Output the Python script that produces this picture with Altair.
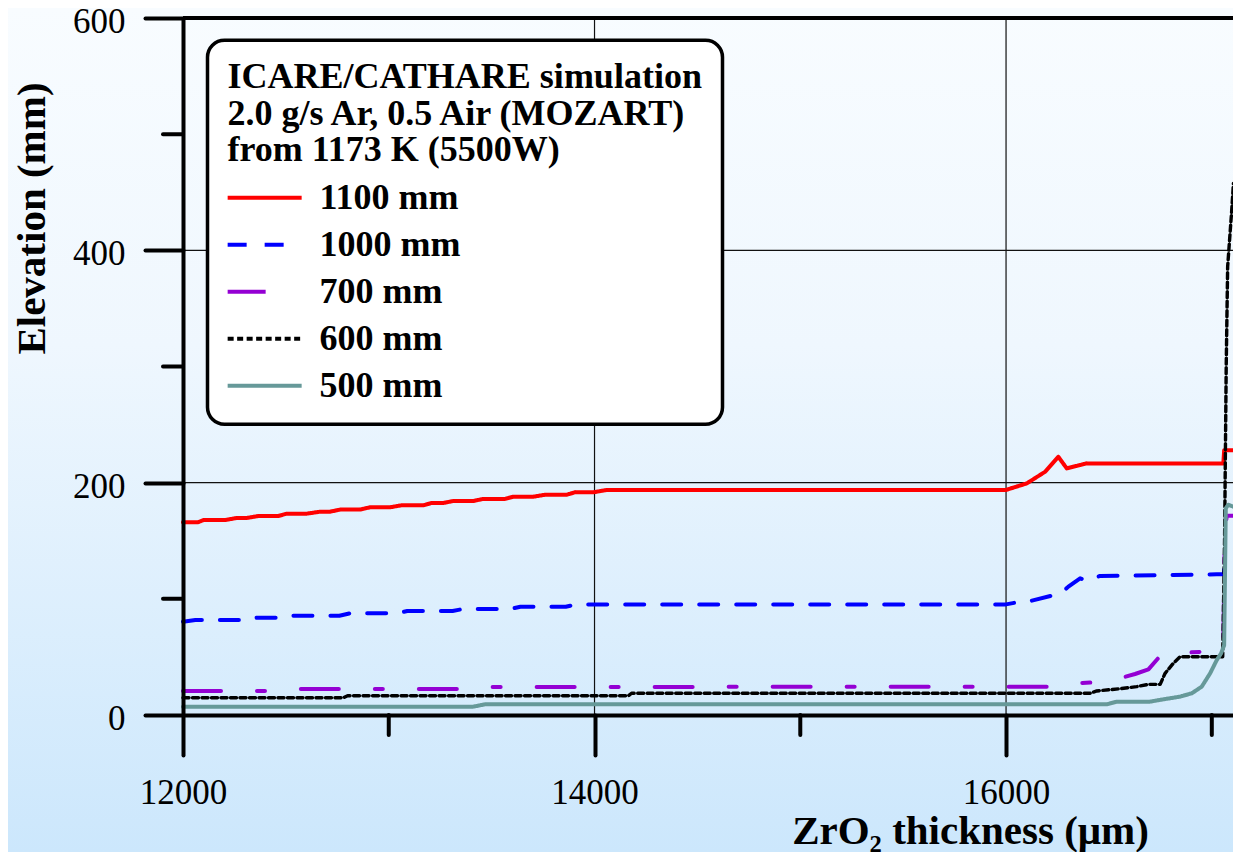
import altair as alt
import pandas as pd

SERIES = ["1100 mm", "1000 mm", "700 mm", "600 mm", "500 mm"]
COLORS = ["#FF0000", "#0000FF", "#9400D3", "#000000", "#669999"]
DASHES = [[1, 0], [19, 18], [38, 36, 8, 36], [6, 3.5], [1, 0]]
WIDTHS = [4, 4, 4, 3.4, 4]

LEGEND_TITLE = ["ICARE/CATHARE simulation", "2.0 g/s Ar, 0.5 Air (MOZART)", "from 1173 K (5500W)"]

x_1100 = [12000, 12074, 12099, 12204, 12261, 12310, 12366, 12463, 12504, 12601, 12666, 12714,
          12763, 12860, 12909, 13006, 13062, 13168, 13208, 13265, 13313, 13410, 13459, 13565,
          13605, 13702, 13759, 13865, 13905, 13994, 14059, 16000, 16101, 16190, 16254, 16295,
          16392, 17056, 17060, 17142]
y_1100 = [166, 166, 167.8, 167.8, 169.6, 169.6, 171.3, 171.3, 173.3, 173.3, 175, 175,
          176.8, 176.8, 178.8, 178.8, 180.5, 180.5, 182.5, 182.5, 184.2, 184.2, 186, 186,
          187.9, 187.9, 189.6, 189.6, 191.7, 191.7, 193.7, 193.7, 199.4, 209.4, 222.3, 212.3,
          216.6, 216.6, 228, 228]

x_1000 = [12000, 12060, 12310, 12360, 12480, 12530, 12760, 12810, 13040, 13090, 13310, 13360,
          13590, 13640, 13860, 13910, 16000, 16044, 16117, 16222, 16271, 16303, 16360, 16392,
          16457, 17024, 17058, 17064, 17142]
y_1000 = [80.3, 81.8, 81.8, 83.8, 83.8, 85.5, 85.5, 87.5, 87.5, 89.5, 89.5, 91.2,
          91.2, 93.2, 93.2, 95.2, 95.2, 96.7, 98.1, 102.7, 105.3, 110.5, 117.7, 115.6,
          119.7, 121.1, 121.1, 132, 132]

x_700 = [12000, 12450, 12510, 13430, 13480, 16206, 16246, 16433, 16520, 16627, 16692, 16757,
         16959, 17040, 17056, 17062, 17072, 17142]
y_700 = [20.7, 20.7, 22.4, 22.4, 24.1, 24.4, 26.4, 28.1, 30.0, 35.3, 39.3, 52.5,
         54.5, 54.5, 60, 140, 171.5, 171.5]

x_600 = [12000, 12780, 12800, 14165, 14180, 16408, 16441, 16554, 16635, 16692, 16749, 16773,
         16813, 16846, 17053, 17062, 17070, 17077, 17097, 17105, 17129, 17142]
y_600 = [14.9, 14.9, 16.6, 16.6, 18.7, 18.7, 20.7, 22.6, 24.4, 26.4, 26.4, 35.9,
         44.5, 50.2, 50.2, 150, 300, 386, 435, 457.6, 456, 455]

x_500 = [12000, 13411, 13468, 16490, 16538, 16700, 16765, 16846, 16903, 16951, 16992, 17024,
         17045, 17060, 17068, 17080, 17105, 17142]
y_500 = [7.2, 7.2, 9.2, 9.2, 11.5, 11.5, 13.5, 15.8, 18.7, 24.4, 35.9, 47.3,
         53, 60, 178, 181, 179.3, 178.8]

X_MAJOR = [12000, 14000, 16000]
X_MINOR = [13000, 15000, 17000]
Y_MAJOR = [0, 200, 400, 600]
Y_MINOR = [100, 300, 500]
X_GRID = [14000, 16000]
Y_GRID = [200, 400]
Y_TOP = [600]
X_DOMAIN = [12000, 17103]
Y_DOMAIN = [0, 600]

W, H = 1050, 697
FONT = "Liberation Serif"

rows = []
for name, w, xs, ys in zip(SERIES, WIDTHS, [x_1100, x_1000, x_700, x_600, x_500],
                           [y_1100, y_1000, y_700, y_600, y_500]):
    for i, (a, b) in enumerate(zip(xs, ys)):
        rows.append({"x": a, "y": b, "series": name, "w": w, "i": i})
df = pd.DataFrame(rows)

xscale = alt.Scale(domain=X_DOMAIN, nice=False, zero=False)
yscale = alt.Scale(domain=Y_DOMAIN, nice=False, zero=False)

gradient = alt.Gradient(
    gradient="linear",
    stops=[alt.GradientStop(color="#F8FCFF", offset=0),
           alt.GradientStop(color="#EFF7FE", offset=0.4),
           alt.GradientStop(color="#CCE7FC", offset=1)],
    x1=0, x2=0, y1=0, y2=1,
)

bg = alt.Chart(pd.DataFrame({"k": [0]})).mark_rect(fill=gradient, strokeWidth=0).encode(
    x=alt.value(-175), x2=alt.value(W), y=alt.value(-10), y2=alt.value(H + 137)
)

grid_x = alt.Chart(pd.DataFrame({"v": X_GRID})).mark_rule(color="#111111", strokeWidth=1.2).encode(
    x=alt.X("v:Q", scale=xscale, axis=None), y=alt.value(0), y2=alt.value(H)
)
grid_y = alt.Chart(pd.DataFrame({"v": Y_GRID})).mark_rule(color="#111111", strokeWidth=1.2).encode(
    y=alt.Y("v:Q", scale=yscale, axis=None), x=alt.value(0), x2=alt.value(W)
)
top_line = alt.Chart(pd.DataFrame({"v": Y_TOP})).mark_rule(color="black", strokeWidth=4).encode(
    y=alt.Y("v:Q", scale=yscale, axis=None), x=alt.value(0), x2=alt.value(W)
)

minor_y = alt.Chart(pd.DataFrame({"v": Y_MINOR})).mark_rule(
    color="black", strokeWidth=4, strokeCap="round"
).encode(
    y=alt.Y("v:Q", scale=yscale, axis=None), x=alt.value(-20), x2=alt.value(0)
)
minor_x = alt.Chart(pd.DataFrame({"v": X_MINOR})).mark_rule(
    color="black", strokeWidth=4, strokeCap="round"
).encode(
    x=alt.X("v:Q", scale=xscale, axis=None), y=alt.value(H), y2=alt.value(H + 20)
)

legend = alt.Legend(
    title=LEGEND_TITLE,
    orient="none", legendX=24.5, legendY=22.3, direction="vertical",
    symbolType="M-1.1,0H2.9", symbolSize=1369, symbolStrokeWidth=4,
    labelFont=FONT, labelFontSize=36, labelFontWeight="bold", labelColor="black",
    labelLimit=500, labelOffset=51,
    titleFont=FONT, titleFontSize=36, titleFontWeight="bold", titleColor="black",
    titleLineHeight=36.5, titleLimit=1000, titlePadding=8,
    rowPadding=8, zindex=2,
)

lines = alt.Chart(df).mark_line(strokeCap="round", strokeJoin="round").encode(
    x=alt.X("x:Q", scale=xscale,
            axis=alt.Axis(values=X_MAJOR, format="d", title="ZrO₂ thickness (μm)",
                          tickSize=40, labelPadding=20, labelFlush=False, zindex=1,
                          titleX=787, titleY=128, titleAlign="center",
                          titleBaseline="alphabetic", titleFontSize=41)),
    y=alt.Y("y:Q", scale=yscale,
            axis=alt.Axis(values=Y_MAJOR, title="Elevation (mm)", tickSize=38,
                          labelPadding=20, labelOffset=3.5, zindex=1,
                          titleX=-151, titleY=200, titleAngle=-90,
                          titleAlign="center", titleBaseline="middle", titleFontSize=41)),
    color=alt.Color("series:N", scale=alt.Scale(domain=SERIES, range=COLORS), legend=legend),
    strokeDash=alt.StrokeDash("series:N", scale=alt.Scale(domain=SERIES, range=DASHES),
                              legend=legend),
    size=alt.Size("w:Q", scale=None),
    order="i:Q",
)

chart = alt.layer(bg, grid_x, grid_y, top_line, minor_y, minor_x, lines).resolve_axis(
    x="independent", y="independent"
).properties(
    width=W, height=H,
    autosize=alt.AutoSizeParams(type="none"),
    padding={"left": 175, "top": 10, "right": 0, "bottom": 137},
).configure_view(stroke=None).configure_axis(
    domainColor="black", domainWidth=4, tickColor="black", tickWidth=4, tickCap="round",
    labelFont=FONT, labelFontSize=35, labelColor="black",
    titleFont=FONT, titleFontWeight="bold", titleColor="black",
    grid=False,
).configure_legend(
    fillColor="white", strokeColor="black", strokeWidth=3.5, cornerRadius=17, padding=20,
)

chart.save("out.html", embed_options={"renderer": "svg", "actions": False})
